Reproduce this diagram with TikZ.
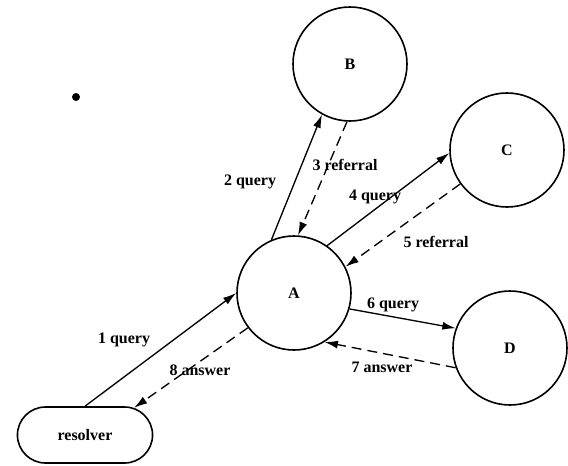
\documentclass[tikz,border=0pt]{standalone}
\usepackage{fontspec}
\setmainfont{Liberation Serif}
\usepackage{tikz}
\usetikzlibrary{arrows.meta,shapes.misc}

\tikzset{
  server/.style={draw, circle, line width=1.2pt, minimum size=85.5pt, inner sep=0pt},
  client/.style={draw, rounded rectangle, line width=1.2pt, minimum width=108pt, minimum height=42pt},
  msg/.style={line width=1pt, -{Latex[length=10pt,width=6pt]}},
  reply/.style={msg, dash pattern=on 7.5pt off 4.5pt},
  lbl/.style={inner sep=1pt}
}

\begin{document}
\begin{tikzpicture}[x=0.75pt, y=-0.75pt, font=\fontsize{12}{14}\selectfont\bfseries]

			\useasboundingbox (0,0) rectangle (568,465);

			% Servidores y resolver
			\node[server] (A) at (294,293) {A};
			\node[server] (B) at (350,64) {B};
			\node[server] (C) at (507,150) {C};
			\node[server] (D) at (510,348) {D};
			\node[client] (resolver) at (85,435) {resolver};

			% Manchita del escaneo
			\fill (76,97) circle (4);

			% Consultas
			\draw[msg] (resolver.north) -- (A.180);
			\draw[msg] (A.113) -- (B.241);
			\draw[msg] (A.55) -- (C.183);
			\draw[msg] (A.-16) -- (D.160);

			% Respuestas
			\draw[reply] (B.267) -- (A.86);
			\draw[reply] (C.216) -- (A.27);
			\draw[reply] (D.200) -- (A.-58);
			\draw[reply] (A.217) -- (resolver.29);

			% Etiquetas de los mensajes
			\node[lbl] (l1) at (124,340) {1 query};
			\node[lbl] (l2) at (250,182) {2 query};
			\node[lbl] (l3) at (345,165) {3 referral};
			\node[lbl] (l4) at (375,197) {4 query};
			\node[lbl] (l5) at (436,242) {5 referral};
			\node[lbl] (l6) at (393,305) {6 query};
			\node[lbl] (l7) at (382,367) {7 answer};
			\node[lbl] (l8) at (200,370) {8 answer};

		\end{tikzpicture}
\end{document}
